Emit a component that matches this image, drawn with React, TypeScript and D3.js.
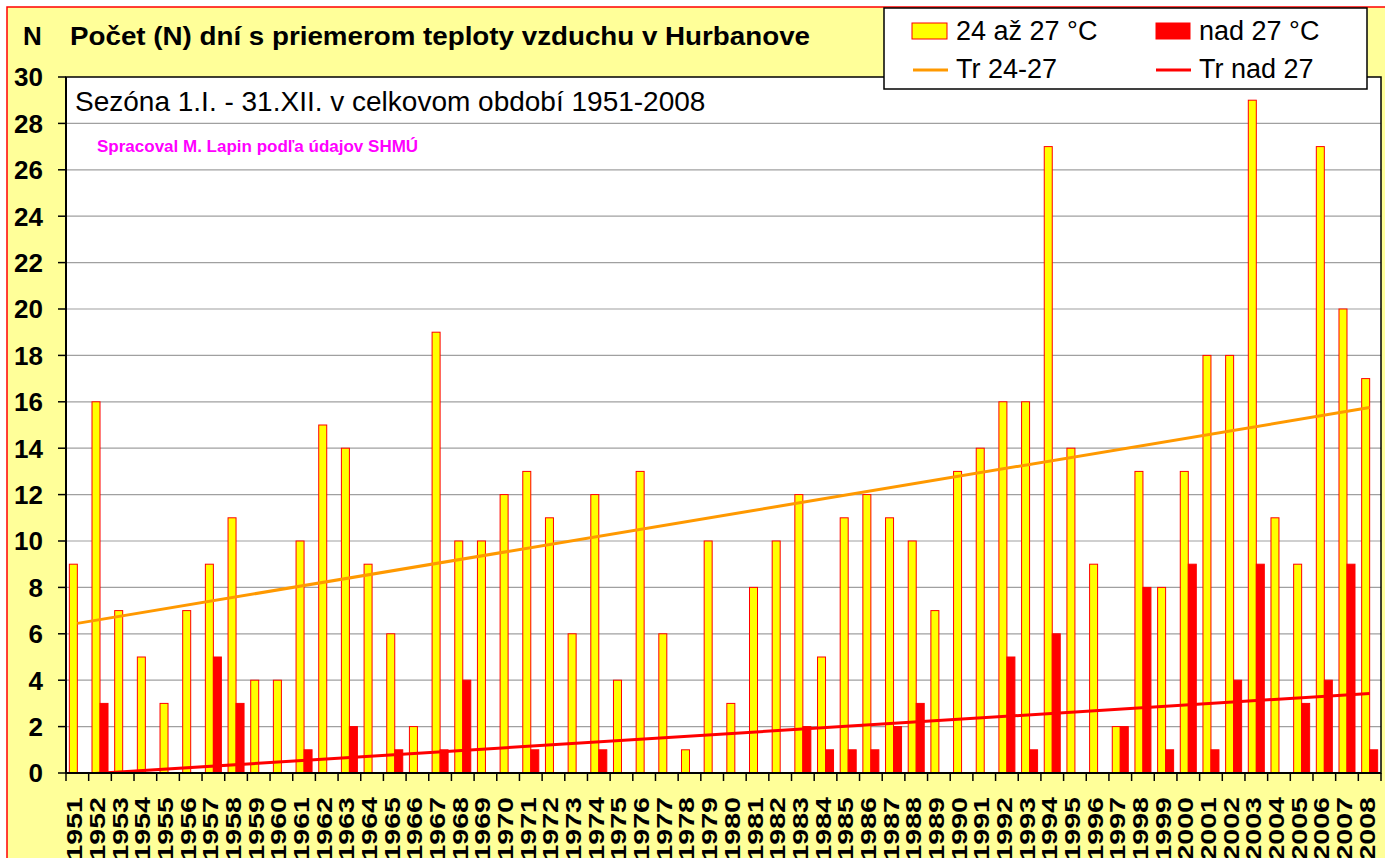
import React from "react";
import * as d3 from "d3";

const years = [
  "1951","1952","1953","1954","1955","1956","1957","1958","1959","1960",
  "1961","1962","1963","1964","1965","1966","1967","1968","1969","1970",
  "1971","1972","1973","1974","1975","1976","1977","1978","1979","1980",
  "1981","1982","1983","1984","1985","1986","1987","1988","1989","1990",
  "1991","1992","1993","1994","1995","1996","1997","1998","1999","2000",
  "2001","2002","2003","2004","2005","2006","2007","2008",
];

const days24to27 = [
  9,16,7,5,3,7,9,11,4,4,
  10,15,14,9,6,2,19,10,10,12,
  13,11,6,12,4,13,6,1,10,3,
  8,10,12,5,11,12,11,10,7,13,
  14,16,16,27,14,9,2,13,8,13,
  18,18,29,11,9,27,20,17,
];

const daysOver27 = [
  0,3,0,0,0,0,5,3,0,0,
  1,0,2,0,1,0,1,4,0,0,
  1,0,0,1,0,0,0,0,0,0,
  0,0,2,1,1,1,2,3,0,0,
  0,5,1,6,0,0,2,8,1,9,
  1,4,9,0,3,4,9,1,
];

// trend line end values (1951, 2008)
const trendYears = ["1951", "2008"];
const trend24to27 = [6.45, 15.75];
const trendOver27 = [-0.07, 3.43];

const yTicks = [0,2,4,6,8,10,12,14,16,18,20,22,24,26,28,30];

const FONT = "'Liberation Sans', Arial, sans-serif";

export default function App() {
  const W = 1385, H = 858;
  const L = 66, R = 1381, T = 77, B = 773;

  const x = d3.scaleBand<string>().domain(years).range([L, R]).paddingInner(0.294).paddingOuter(0.147);
  const y = d3.scaleLinear().domain([0, 30]).range([B, T]);
  const step = x.step();
  const bw = x.bandwidth() / 2;
  const cx = (yr: string) => (x(yr) as number) + x.bandwidth() / 2;

  const line = d3.line<[string, number]>().x(d => cx(d[0])).y(d => y(d[1]));

  return (
    <svg width={W} height={H} style={{ position: "absolute", left: 0, top: 0 }} fontFamily={FONT}>
      <rect x={0} y={0} width={W} height={H} fill="#ffffff" />
      <rect x={7} y={7} width={W + 20} height={H + 20} fill="#FFFF99" stroke="#FF0000" strokeWidth={1.5} />
      {/* plot area */}
      <rect x={L} y={T} width={R - L} height={B - T} fill="#ffffff" />
      <defs>
        <clipPath id="plotclip">
          <rect x={L} y={T} width={R - L} height={B - T} />
        </clipPath>
      </defs>
      {yTicks.filter(v => v > 0 && v < 30).map(v => (
        <line key={"g" + v} x1={L} x2={R} y1={y(v)} y2={y(v)} stroke="#a0a0a0" strokeWidth={1.2} />
      ))}
      {/* bars */}
      {years.map((yr, i) => (
        <g key={"b" + yr}>
          {days24to27[i] > 0 && (
            <rect x={x(yr) as number} y={y(days24to27[i])} width={bw} height={B - y(days24to27[i])}
              fill="#FFFF00" stroke="#FF0000" strokeWidth={1} />
          )}
          {daysOver27[i] > 0 && (
            <rect x={(x(yr) as number) + bw} y={y(daysOver27[i])} width={bw} height={B - y(daysOver27[i])}
              fill="#FF0000" stroke="#FF0000" strokeWidth={1} />
          )}
        </g>
      ))}
      {/* trend lines */}
      <g clipPath="url(#plotclip)">
        <path d={line(trendYears.map((t, i) => [t, trend24to27[i]] as [string, number])) as string}
          fill="none" stroke="#FF9900" strokeWidth={3} />
        <path d={line(trendYears.map((t, i) => [t, trendOver27[i]] as [string, number])) as string}
          fill="none" stroke="#FF0000" strokeWidth={3} />
      </g>
      {/* plot border and axes */}
      <rect x={L} y={T} width={R - L} height={B - T} fill="none" stroke="#000" strokeWidth={1.5} />
      <line x1={L} x2={L} y1={T} y2={B} stroke="#000" strokeWidth={2} />
      <line x1={L} x2={R} y1={B} y2={B} stroke="#000" strokeWidth={2} />
      {yTicks.map(v => (
        <g key={"yt" + v}>
          <line x1={L - 8} x2={L} y1={y(v)} y2={y(v)} stroke="#000" strokeWidth={1.5} />
          <text x={43} y={y(v)} dy="0.36em" textAnchor="end" fontSize={26} fontWeight="bold" fill="#000">{v}</text>
        </g>
      ))}
      {d3.range(years.length + 1).map(i => (
        <line key={"xt" + i} x1={L + i * step} x2={L + i * step} y1={B} y2={B + 8} stroke="#000" strokeWidth={1.5} />
      ))}
      {years.map(yr => (
        <text key={"xl" + yr} transform={`translate(${cx(yr) + 5},797) rotate(-90) scale(1.3,1)`}
          textAnchor="end" fontSize={22} fontWeight="bold" fill="#000">{yr}</text>
      ))}
      {/* titles */}
      <text x={23} y={45} fontSize={26} fontWeight="bold" fill="#000">N</text>
      <text x={70} y={45} fontSize={26} fontWeight="bold" fill="#000" textLength={740} lengthAdjust="spacingAndGlyphs">Počet (N) dní s priemerom teploty vzduchu v Hurbanove</text>
      <text x={75} y={111} fontSize={28} fill="#000">Sezóna 1.I. - 31.XII. v celkovom období 1951-2008</text>
      <text x={97} y={152} fontSize={17} fontWeight="bold" fill="#FF00FF">Spracoval M. Lapin podľa údajov SHMÚ</text>
      {/* legend */}
      <rect x={884} y={8} width={483} height={81} fill="#fff" stroke="#000" strokeWidth={1.5} />
      <rect x={912} y={23} width={35} height={16} fill="#FFFF00" stroke="#FF0000" strokeWidth={1} />
      <text x={956} y={40} fontSize={27} fill="#000">24 až 27 °C</text>
      <rect x={1156} y={23} width={34} height={16} fill="#FF0000" stroke="#FF0000" strokeWidth={1} />
      <text x={1199} y={40} fontSize={27} fill="#000">nad 27 °C</text>
      <line x1={913} x2={948} y1={70} y2={70} stroke="#FF9900" strokeWidth={3} />
      <text x={956} y={78} fontSize={27} fill="#000">Tr 24-27</text>
      <line x1={1156} x2={1191} y1={70} y2={70} stroke="#FF0000" strokeWidth={3} />
      <text x={1199} y={78} fontSize={27} fill="#000">Tr nad 27</text>
    </svg>
  );
}
